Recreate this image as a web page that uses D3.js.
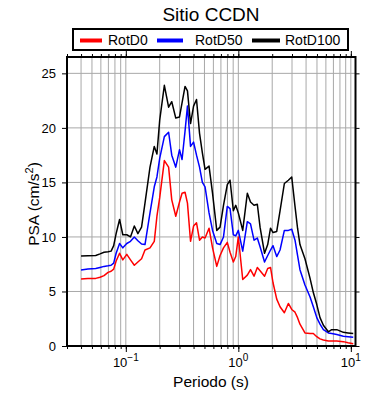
<!DOCTYPE html>
<html><head><meta charset="utf-8">
<script src="https://cdn.jsdelivr.net/npm/d3@7"></script>
<style>body{margin:0;background:#fff;} text{font-family:"Liberation Sans",Arial,Helvetica,sans-serif;fill:#000;}</style>
</head><body><svg id="c" width="390" height="400"></svg>
<script>
const periods = [0.040,0.046,0.054,0.059,0.064,0.0695,0.074,0.078,0.082,0.088,0.094,0.102,0.110,0.119,0.128,0.138,0.148,0.164,0.179,0.189,0.200,0.220,0.240,0.256,0.278,0.300,0.316,0.336,0.353,0.376,0.400,0.425,0.452,0.479,0.506,0.549,0.590,0.643,0.688,0.738,0.798,0.844,0.903,0.948,1.0,1.094,1.202,1.283,1.379,1.475,1.560,1.710,1.824,1.932,2.034,2.194,2.348,2.565,2.783,2.983,3.19,3.36,3.53,3.91,4.34,4.64,4.98,5.32,5.70,6.31,6.76,7.50,8.58,9.44,10.5];
const rotD100 = [8.26,8.28,8.3,8.45,8.6,8.65,8.7,9.2,10.3,11.6,10.2,10.2,10.0,11.0,10.3,10.9,13.1,16.4,18.3,17.6,20.7,23.9,21.9,22.4,20.9,21.0,22.3,23.8,23.4,20.4,22.0,22.6,19.5,17.7,16.2,16.5,14.0,10.6,10.9,12.9,14.8,15.2,12.4,12.9,12.2,10.6,14.0,13.2,12.9,13.0,10.9,8.5,9.3,10.8,10.4,10.5,12.4,14.9,15.2,15.5,12.8,10.8,9.3,8.0,6.2,4.9,3.8,2.6,1.9,1.3,1.5,1.5,1.25,1.2,1.15];
const rotD50 = [6.97,7.05,7.1,7.2,7.3,7.35,7.4,7.6,8.5,9.4,9.0,9.4,9.6,10.0,9.65,9.35,9.3,12.2,14.6,15.5,17.2,19.2,19.6,17.5,16.4,18.0,17.1,19.7,22.0,18.3,18.7,17.5,16.4,15.0,14.6,12.2,10.6,9.4,9.3,10.0,12.8,12.6,10.2,10.1,10.6,8.7,11.4,11.2,9.7,9.9,9.1,7.7,8.3,8.8,9.2,8.2,8.8,10.6,10.6,10.7,9.7,8.3,7.0,5.6,4.5,3.6,2.6,2.0,1.5,1.2,1.15,1.05,0.9,0.85,0.8];
const rotD0 = [6.15,6.2,6.2,6.3,6.45,6.75,6.85,7.05,7.8,8.5,7.9,8.4,7.9,7.4,7.7,8.0,8.8,9.0,9.6,11.9,13.6,17.0,16.4,13.4,11.9,13.2,14.0,14.1,13.1,9.6,11.0,11.3,9.7,10.0,9.9,10.8,9.0,7.3,8.3,9.0,9.5,8.6,7.7,8.2,10.0,6.1,6.5,7.0,6.4,7.2,6.9,6.4,7.1,7.2,5.8,4.3,3.6,3.05,3.9,3.35,3.1,2.6,2.0,1.2,1.15,1.15,0.85,0.65,0.55,0.45,0.45,0.45,0.4,0.3,0.2];
const seriesNames = ["RotD0","RotD50","RotD100"];
const seriesColors = ["#ff0000","#0000ff","#000000"];
const yTicks = [0,5,10,15,20,25];
const xMajor = [0.1,1,10];
const xExp = ["\u22121","0","1"];
const titleText = "Sitio CCDN";
const xLabel = "Periodo (s)";

const svg = d3.select("#c");
const L=67, R=355.5, T=57, B=346;
const x = d3.scaleLog().domain([0.03,11]).range([L,R]);
const y = d3.scaleLinear().domain([0,26.5]).range([B,T]);

const minor = [];
[0.01,0.1,1,10].forEach(d=>{for(let k=1;k<=9;k++){const v=+(d*k).toPrecision(3); if(v>=0.03&&v<=11) minor.push(v);}});

const g = svg.append("g");
g.selectAll(".vg").data(minor).enter().append("line")
 .attr("x1",d=>x(d)).attr("x2",d=>x(d)).attr("y1",T).attr("y2",B)
 .attr("stroke","#a8a8a8").attr("stroke-width",1);
g.selectAll(".hg").data(yTicks.filter(d=>d>0)).enter().append("line")
 .attr("x1",L).attr("x2",R).attr("y1",d=>y(d)).attr("y2",d=>y(d))
 .attr("stroke","#a8a8a8").attr("stroke-width",1);

const series=[rotD0,rotD50,rotD100];
const line = d3.line().x((d,i)=>x(periods[i])).y(d=>y(d));
series.forEach((s,i)=>{
  svg.append("path").datum(s).attr("d",line).attr("fill","none")
   .attr("stroke",seriesColors[i]).attr("stroke-width",1.5).attr("stroke-linejoin","round");
});

function axisTicks(axis, tr){
  const a = svg.append("g").attr("transform",tr).call(axis);
  a.select(".domain").remove();
  a.selectAll("line").attr("stroke","#000").attr("stroke-width",1);
  return a;
}
axisTicks(d3.axisBottom(x).tickValues(minor).tickSize(3).tickFormat(""),`translate(0,${B})`);
axisTicks(d3.axisTop(x).tickValues(minor).tickSize(3).tickFormat(""),`translate(0,${T})`);
axisTicks(d3.axisBottom(x).tickValues(xMajor).tickSize(6).tickFormat(""),`translate(0,${B})`);
axisTicks(d3.axisTop(x).tickValues(xMajor).tickSize(6).tickFormat(""),`translate(0,${T})`);
const ya = axisTicks(d3.axisLeft(y).tickValues(yTicks).tickSize(5).tickPadding(6),`translate(${L},0)`);
ya.selectAll("text").attr("font-size",13).attr("font-family","Liberation Sans, Arial, sans-serif").attr("fill","#000");
axisTicks(d3.axisRight(y).tickValues(yTicks).tickSize(4).tickFormat(""),`translate(${R},0)`);

xMajor.forEach((v,i)=>{
  const t = svg.append("text").attr("x",x(v)).attr("y",367).attr("text-anchor","middle").attr("font-size",13);
  t.append("tspan").text("10");
  t.append("tspan").attr("dy",-6).attr("font-size",10).text(xExp[i]);
});

svg.append("rect").attr("x",L).attr("y",T).attr("width",R-L).attr("height",B-T)
 .attr("fill","none").attr("stroke","#000").attr("stroke-width",2);

svg.append("text").attr("x",211).attr("y",21).attr("text-anchor","middle").attr("font-size",19).text(titleText);
svg.append("text").attr("x",211).attr("y",387).attr("text-anchor","middle").attr("font-size",15.5).text(xLabel);
const yl = svg.append("text").attr("transform","translate(39,204) rotate(-90)").attr("text-anchor","middle").attr("font-size",15.5);
yl.append("tspan").text("PSA (cm/s");
yl.append("tspan").attr("dy",-6).attr("font-size",11).text("2");
yl.append("tspan").attr("dy",6).text(")");

svg.append("rect").attr("x",73).attr("y",29).attr("width",275).attr("height",21)
 .attr("fill","#fff").attr("stroke","#000").attr("stroke-width",2);
const legX = [[80,102,108],[157,183,195],[252,280,285]];
seriesNames.forEach((n,i)=>{
  svg.append("line").attr("x1",legX[i][0]).attr("x2",legX[i][1]).attr("y1",40.5).attr("y2",40.5)
   .attr("stroke",seriesColors[i]).attr("stroke-width",4);
  svg.append("text").attr("x",legX[i][2]).attr("y",44.5).attr("font-size",14).text(n);
});
</script></body></html>
